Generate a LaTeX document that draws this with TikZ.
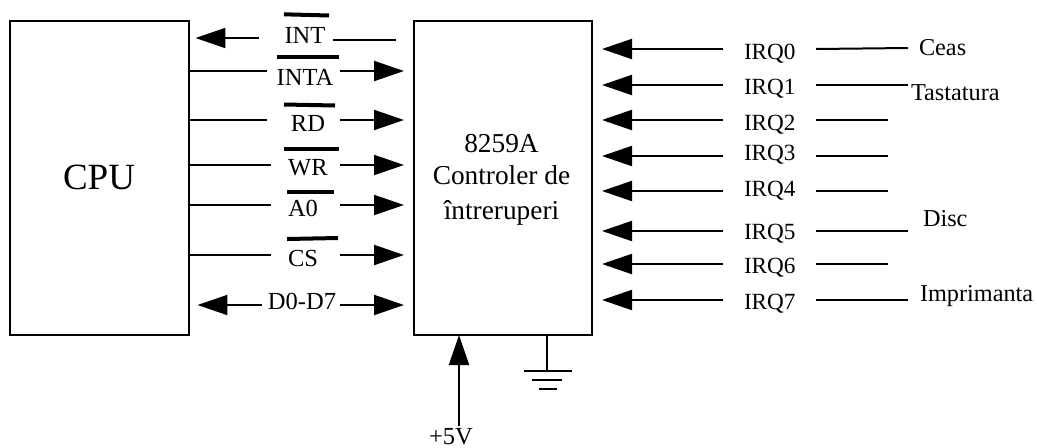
\documentclass[tikz,border=0pt]{standalone}
\usepackage{fontspec}
\setmainfont{Liberation Serif}
\usetikzlibrary{arrows.meta}
\tikzset{
  x=0.75pt,y=-0.75pt,
  wire/.style={line width=1.5pt,line cap=butt},
  towire/.style={wire,-{Triangle[length=22.5pt,width=15pt]}},
  bar/.style={line width=3pt},
  blockbox/.style={draw,line width=1.5pt,outer sep=0pt,inner sep=0pt},
  lbl/.style={inner sep=0pt,outer sep=0pt,anchor=base,font=\fontsize{18.4pt}{24pt}\selectfont},
  lbll/.style={lbl,anchor=base west,font=\fontsize{18.2pt}{24pt}\selectfont},
  irqlbl/.style={lbl,anchor=base west,font=\fontsize{17.4pt}{24pt}\selectfont},
}
\begin{document}
\begin{tikzpicture}
\useasboundingbox (0,0) rectangle (1037,447);
% blocks
\node[blockbox,minimum width=134.6pt,minimum height=235.5pt] (cpu) at (99.75,178) {};
\node[blockbox,minimum width=133.5pt,minimum height=235.5pt] (ctrl) at (503,178) {};
\node[lbl,font=\fontsize{27.75pt}{30pt}\selectfont] (cputext) at (99,189) {CPU};
\node[lbl,align=center,anchor=base,font=\fontsize{20.5pt}{24pt}\selectfont] (ctrltext) at (501.5,219) {8259A\\Controler de\\[2.25pt]întreruperi};
% left labels
\node[lbl] (int) at (305,43) {INT};
\node[lbl] (inta) at (305,85) {INTA};
\node[lbl] (rd) at (308,131) {RD};
\node[lbl] (wr) at (308,175) {WR};
\node[lbl] (a0) at (303,216) {A0};
\node[lbl] (cs) at (303,266) {CS};
\node[lbl] (d) at (302,309) {D0-D7};
% overbars
\coordinate (b1a) at (284,14.3); \coordinate (b1b) at (329,15.5);
\coordinate (b2a) at (277,57); \coordinate (b2b) at (339,57);
\coordinate (b3a) at (284,104.5); \coordinate (b3b) at (335,105.5);
\coordinate (b4a) at (284,149); \coordinate (b4b) at (339,149);
\coordinate (b5a) at (287,191.5); \coordinate (b5b) at (334,191.5);
\coordinate (b6a) at (287,239); \coordinate (b6b) at (338,238);
\foreach \i in {1,...,6} {\draw[bar] (b\i a) -- (b\i b);}
% left connectors
\coordinate (intl) at (259,38);
\coordinate (intr) at (333,40);
\coordinate (intre) at (396,40);
\draw[towire,shorten >=4.5pt] (intl) -- (cpu.east |- intl);
\draw[wire] (intr) -- (intre);
\foreach \n/\yy/\lx in {inta/71/267,rd/120/267,wr/165/271,a0/205/271,cs/255/271} {
  \coordinate (\n L) at (\lx,\yy);
  \coordinate (\n R) at (340,\yy);
  \draw[wire] (cpu.east |- \n L) -- (\n L);
  \draw[towire,shorten >=7.5pt] (\n R) -- (ctrl.west |- \n R);
}
\coordinate (dL) at (262,305);
\coordinate (dR) at (340,305);
\draw[towire,shorten >=6pt] (dL) -- (cpu.east |- dL);
\draw[towire,shorten >=7.5pt] (dR) -- (ctrl.west |- dR);
% IRQ lines
\foreach \k/\yy/\by/\xe/\ye in {0/49/59/908/48,1/85/94/908/85,2/120/130/888/120,3/156/160/888/156,4/191/196/888/191,5/231/239/908/231,6/264/273/888/264,7/300/309/908/300} {
  \node[irqlbl] (irq\k) at (744,\by) {IRQ\k};
  \coordinate (il\k) at (723,\yy);
  \coordinate (ir\k) at (816,\yy);
  \coordinate (ie\k) at (\xe,\ye);
  \draw[towire,shorten >=7.5pt] (il\k) -- (ctrl.east |- il\k);
  \draw[wire] (ir\k) -- (ie\k);
}
% device labels
\node[lbll] (ceas) at (919,55) {Ceas};
\node[lbll] (tast) at (911,100) {Tastatura};
\node[lbll] (disc) at (923,226) {Disc};
\node[lbll] (impr) at (920,301) {Imprimanta};
% +5V
\node[lbl] (vcc) at (451,444) {+5V};
\coordinate (vs) at (459,426);
\draw[towire] (vs) -- (ctrl.south -| vs);
% ground
\coordinate (g0) at (547,335);
\coordinate (g1) at (547,371);
\draw[wire] (ctrl.south -| g0) -- (g1);
\draw[wire] (524,371) -- (572,371);
\draw[wire] (532,380) -- (562,380);
\draw[wire] (539,389) -- (557,389);
\end{tikzpicture}
\end{document}
